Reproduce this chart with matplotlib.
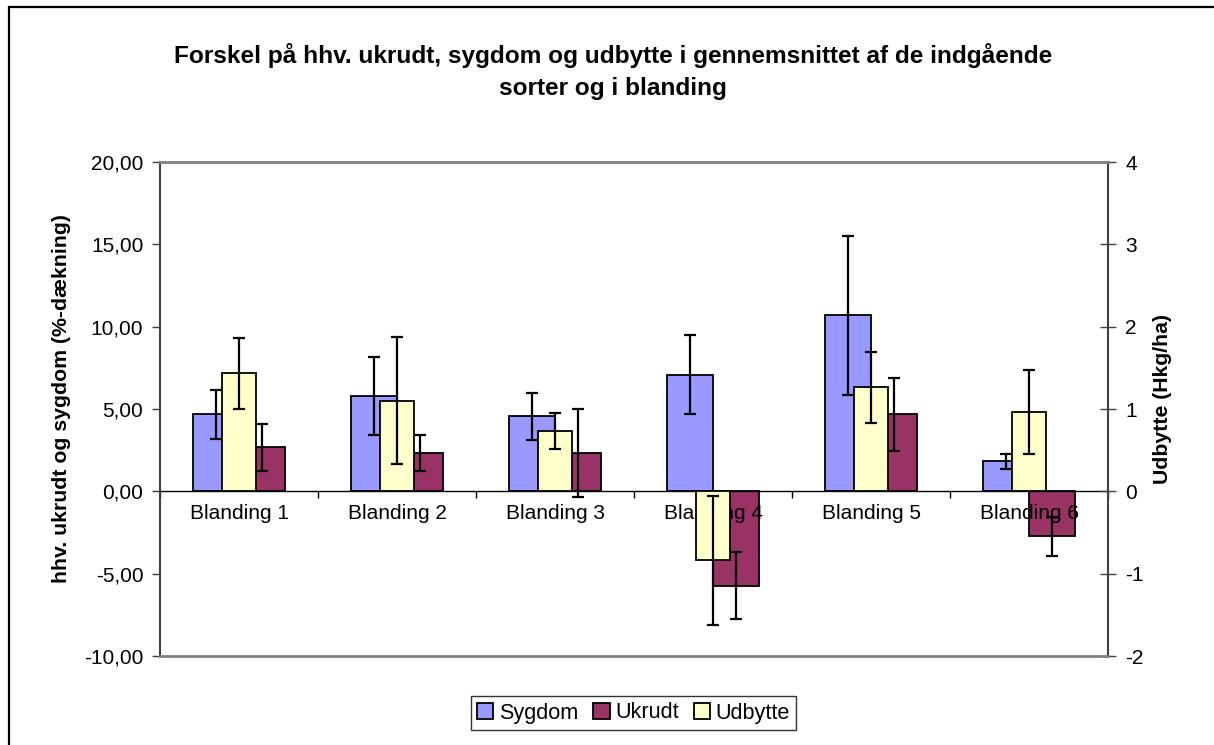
import numpy as np
import matplotlib.pyplot as plt
from matplotlib.patches import Rectangle

plt.rcParams['font.family'] = ['Liberation Sans', 'DejaVu Sans']

# data
categories = ["Blanding 1", "Blanding 2", "Blanding 3", "Blanding 4", "Blanding 5", "Blanding 6"]
sygdom = [4.69, 5.78, 4.56, 7.08, 10.69, 1.83]
sygdom_err = [1.49, 2.38, 1.42, 2.39, 4.81, 0.46]
ukrudt = [2.68, 2.33, 2.33, -5.72, 4.67, -2.74]
ukrudt_err = [1.42, 1.12, 2.70, 2.06, 2.20, 1.18]
udbytte = [1.435, 1.103, 0.73, -0.84, 1.265, 0.961]
udbytte_err = [0.43, 0.77, 0.22, 0.78, 0.43, 0.51]
left_ticks = [-10, -5, 0, 5, 10, 15, 20]
right_ticks = [-2, -1, 0, 1, 2, 3, 4]

W, H = 1214, 745
fig = plt.figure(figsize=(W / 100, H / 100), dpi=100)
fig.patch.set_facecolor("white")

# outer chart border (cut off at right/bottom like the reference)
fig.add_artist(Rectangle((8.5 / W, -0.1), 1.2, 1.1 - 7.5 / H, transform=fig.transFigure,
                         fill=False, edgecolor="black", linewidth=1.6))

ax = fig.add_axes([160 / W, (H - 656) / H, (1108 - 160) / W, (656 - 162) / H])
ax2 = ax.twinx()

x = np.arange(len(categories))
w = 0.288
wu = 0.215
err_kw = dict(elinewidth=1.6, capthick=1.6, ecolor="black")

b1 = ax.bar(x - w / 2, sygdom, w, yerr=sygdom_err, color="#9999FF", edgecolor="black",
            linewidth=1.3, capsize=4.3, error_kw=err_kw, label="Sygdom")
b2 = ax.bar(x + w / 2, ukrudt, w, yerr=ukrudt_err, color="#993366", edgecolor="black",
            linewidth=1.3, capsize=4.3, error_kw=err_kw, label="Ukrudt")
b3 = ax2.bar(x, udbytte, wu, yerr=udbytte_err, color="#FFFFCC", edgecolor="black",
             linewidth=1.3, capsize=4.3, error_kw=err_kw, label="Udbytte")

ax.set_xlim(-0.5, len(categories) - 0.5)
ax.set_ylim(-10, 20)
ax2.set_ylim(-2, 4)

# left axis
ax.set_yticks(left_ticks)
ax.set_yticklabels([f"{v:.2f}".replace(".", ",") for v in left_ticks], fontsize=15)
ax.tick_params(axis="y", direction="out", length=6, width=1, color="#404040", pad=6)

# right axis
ax2.set_yticks(right_ticks)
ax2.set_yticklabels([str(v) for v in right_ticks], fontsize=15)
ax2.tick_params(axis="y", direction="inout", length=11, width=1, color="#404040", pad=7)

# category axis at zero
ax.spines["bottom"].set_position(("data", 0))
ax.spines["bottom"].set_color("black")
ax.spines["bottom"].set_linewidth(1.0)
ax.set_xticks(np.arange(-0.5, len(categories), 1.0))
ax.set_xticklabels([])
ax.set_xticks(x, minor=True)
ax.set_xticklabels(categories, minor=True, fontsize=15)
ax.tick_params(axis="x", which="major", direction="out", length=5, width=1, color="black")
ax.tick_params(axis="x", which="minor", length=0, pad=9)

for s in ["top", "right"]:
    ax.spines[s].set_visible(False)
ax.spines["left"].set_color("#404040")
ax.spines["left"].set_linewidth(1.5)
ax2.spines["left"].set_visible(False)
ax2.spines["right"].set_color("#404040")
ax2.spines["right"].set_linewidth(1.5)
for s in ["top", "bottom"]:
    ax2.spines[s].set_color("#808080")
    ax2.spines[s].set_linewidth(2.0)

# titles and axis labels
fig.text(613 / W, 1 - 56 / H, "Forskel på hhv. ukrudt, sygdom og udbytte i gennemsnittet af de indgående",
         ha="center", va="center", fontsize=17.6, fontweight="bold")
fig.text(613 / W, 1 - 88 / H, "sorter og i blanding",
         ha="center", va="center", fontsize=17.6, fontweight="bold")
fig.text(62 / W, 1 - 399 / H, "hhv. ukrudt og sygdom (%-dækning)", rotation=90,
         ha="center", va="center", fontsize=15.3, fontweight="bold")
fig.text(1163 / W, 1 - 399 / H, "Udbytte (Hkg/ha)", rotation=90,
         ha="center", va="center", fontsize=15.3, fontweight="bold")

leg = fig.legend(handles=[b1, b2, b3], labels=["Sygdom", "Ukrudt", "Udbytte"],
                 loc="center", bbox_to_anchor=(633.5 / W, 1 - 713 / H), ncol=3,
                 fontsize=15.6, frameon=True, fancybox=False, edgecolor="black",
                 handlelength=0.75, handleheight=0.75, handletextpad=0.25,
                 columnspacing=0.7, borderpad=0.3, borderaxespad=0)
leg.get_frame().set_linewidth(1.0)

fig.savefig("out.png", dpi=100)
